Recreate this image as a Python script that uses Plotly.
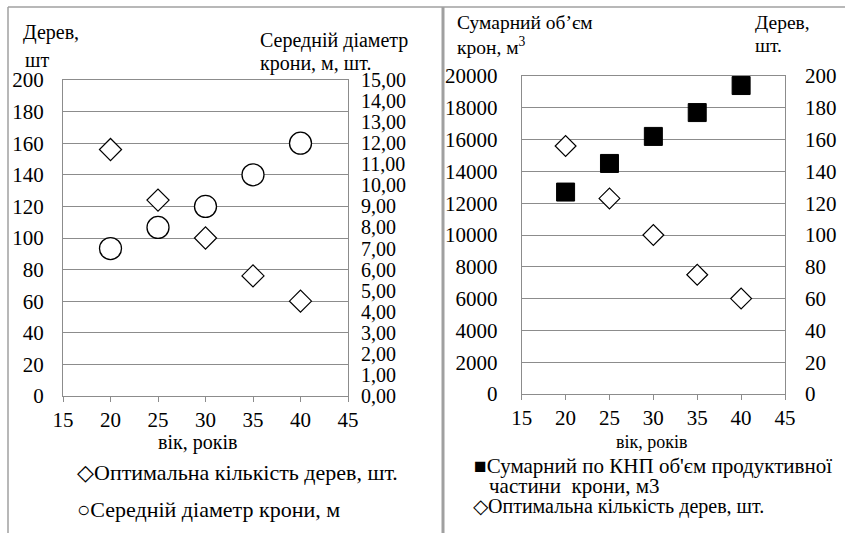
import plotly.graph_objects as go

W, H = 845, 533

# ---- data ----
age = [20, 25, 30, 35, 40]
trees_left = [156, 124, 100, 76, 60]           # Оптимальна кількість дерев, шт.
crown_diam = [7.0, 8.0, 9.0, 10.5, 12.0]        # Середній діаметр крони, м
crown_volume = [12700, 14500, 16200, 17700, 19400]  # Сумарний по КНП об'єм, м3
trees_right = [156, 123, 100, 75, 60]

x_ticks = [15, 20, 25, 30, 35, 40, 45]
left_y_ticks = [0, 20, 40, 60, 80, 100, 120, 140, 160, 180, 200]
diam_ticks = list(range(0, 16))
vol_ticks = [0, 2000, 4000, 6000, 8000, 10000, 12000, 14000, 16000, 18000, 20000]
right_y_ticks = [0, 20, 40, 60, 80, 100, 120, 140, 160, 180, 200]

FONT = "Liberation Serif"
GRID = "#8c8c8c"


def px(x):
    return x / W


def py(y):
    return 1 - y / H


fig = go.Figure()

fig.add_trace(go.Scatter(x=age, y=trees_left, mode="markers", xaxis="x", yaxis="y",
                         marker=dict(symbol="diamond", size=17, color="white",
                                     line=dict(color="black", width=1.2)),
                         showlegend=False, hoverinfo="skip"))
fig.add_trace(go.Scatter(x=age, y=crown_diam, mode="markers", xaxis="x", yaxis="y2",
                         marker=dict(symbol="circle", size=22, color="white",
                                     line=dict(color="black", width=1.3)),
                         showlegend=False, hoverinfo="skip"))
fig.add_trace(go.Scatter(x=age, y=crown_volume, mode="markers", xaxis="x2", yaxis="y3",
                         marker=dict(symbol="square", size=18, color="black",
                                     line=dict(color="black", width=1)),
                         showlegend=False, hoverinfo="skip"))
fig.add_trace(go.Scatter(x=age, y=trees_right, mode="markers", xaxis="x2", yaxis="y4",
                         marker=dict(symbol="diamond", size=16, color="white",
                                     line=dict(color="black", width=1.2)),
                         showlegend=False, hoverinfo="skip"))

tickfont = dict(family=FONT, size=21, color="black")

xcommon = dict(range=[15, 45], tickmode="array", tickvals=x_ticks,
               ticktext=[str(v) for v in x_ticks], ticks="outside", ticklen=5,
               tickcolor=GRID, showline=True, linecolor=GRID, linewidth=1,
               mirror=True, showgrid=False, zeroline=False, tickfont=tickfont,
               fixedrange=True, automargin=False)

fig.update_layout(
    width=W, height=H,
    margin=dict(l=0, r=0, t=0, b=0),
    paper_bgcolor="white", plot_bgcolor="white",
    font=dict(family=FONT, color="black"),
    showlegend=False,
    xaxis=dict(domain=[px(63), px(348)], anchor="y", **xcommon),
    yaxis=dict(domain=[py(396), py(80)], range=[0, 200], tickmode="array",
               tickvals=left_y_ticks, ticktext=[str(v) for v in left_y_ticks],
               showgrid=True, gridcolor=GRID, gridwidth=1, showline=True,
               linecolor=GRID, mirror=True, zeroline=False, ticks="",
               tickfont=tickfont, ticklabelstandoff=14, anchor="x",
               automargin=False, fixedrange=True),
    yaxis2=dict(overlaying="y", side="right", range=[0, 15], tickmode="array",
                tickvals=diam_ticks,
                ticktext=[f"{v:.2f}".replace(".", ",") for v in diam_ticks],
                showgrid=False, showline=False, zeroline=False, ticks="",
                tickfont=dict(family=FONT, size=20, color="black"),
                ticklabelstandoff=12, anchor="x",
                automargin=False, fixedrange=True),
    xaxis2=dict(domain=[px(521.7), px(785)], anchor="y3", **xcommon),
    yaxis3=dict(domain=[py(394), py(76)], range=[0, 20000], tickmode="array",
                tickvals=vol_ticks, ticktext=[str(v) for v in vol_ticks],
                showgrid=True, gridcolor=GRID, gridwidth=1, showline=True,
                linecolor=GRID, mirror=True, zeroline=False, ticks="",
                tickfont=tickfont, ticklabelstandoff=19, anchor="x2",
                automargin=False, fixedrange=True),
    yaxis4=dict(overlaying="y3", side="right", range=[0, 200], tickmode="array",
                tickvals=right_y_ticks, ticktext=[str(v) for v in right_y_ticks],
                showgrid=False, showline=False, zeroline=False, ticks="",
                tickfont=tickfont, ticklabelstandoff=19, anchor="x2",
                automargin=False, fixedrange=True),
)

# frame lines
line_style = dict(color="#a0a0a0", width=1.5)
fig.add_shape(type="line", xref="paper", yref="paper", x0=px(8), x1=px(8), y0=0, y1=py(7), line=line_style)
fig.add_shape(type="line", xref="paper", yref="paper", x0=px(8), x1=1, y0=py(7), y1=py(7), line=line_style)
fig.add_shape(type="line", xref="paper", yref="paper", x0=px(443), x1=px(443), y0=0, y1=py(7), line=dict(color="#a0a0a0", width=3))


def label(text, x, y, size=20, xanchor="left"):
    fig.add_annotation(text=text, x=px(x), y=py(y), xref="paper", yref="paper",
                       xanchor=xanchor, yanchor="middle", showarrow=False,
                       borderpad=0,
                       font=dict(family=FONT, size=size, color="black"))


# axis titles, left chart
label("Дерев,", 22, 33)
label("шт", 24, 60)
label("Середній діаметр", 259, 41)
label("крони, м, шт.", 259, 63)
label("вік, років", 197, 442, size=20, xanchor="center")

# axis titles, right chart
label("Сумарний об’єм", 456, 22, size=19.5)
label("крон, м<sup>3</sup>", 456, 46, size=19.5)
label("Дерев,", 754, 22, size=19.5)
label("шт.", 754, 46, size=19.5)
label("вік, років", 652, 442, size=18, xanchor="center")

# legends
label("◇Оптимальна кількість дерев, шт.", 76, 472, size=22)
label("○Середній діаметр крони, м", 76, 509, size=22)
label("■Сумарний по КНП об'єм продуктивної", 473, 466, size=21)
label("частини  крони, м3", 488, 486, size=21)
label("◇Оптимальна кількість дерев, шт.", 472, 506, size=20)

fig.write_html("out.html", config={"displayModeBar": False},
               post_script="document.body.style.margin='0';")
